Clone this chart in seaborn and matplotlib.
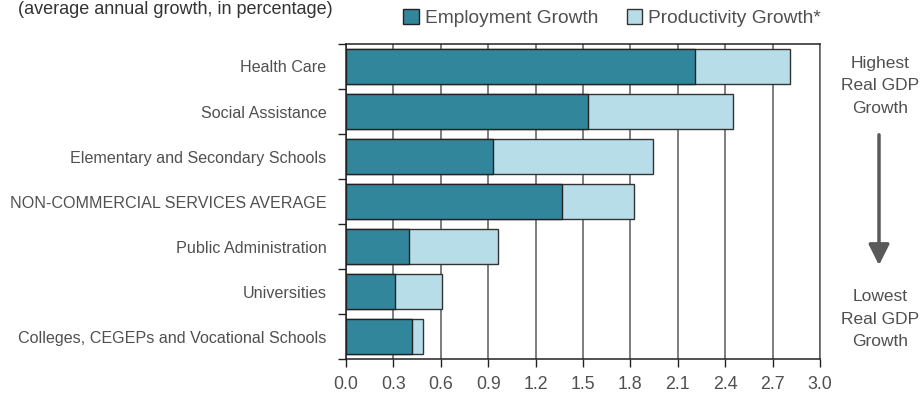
import matplotlib
matplotlib.use("Agg")
import matplotlib.pyplot as plt
import seaborn as sns
import pandas as pd
from matplotlib.patches import Patch

categories = [
    "Health Care",
    "Social Assistance",
    "Elementary and Secondary Schools",
    "NON-COMMERCIAL SERVICES AVERAGE",
    "Public Administration",
    "Universities",
    "Colleges, CEGEPs and Vocational Schools",
]
employment_growth = [2.21, 1.53, 0.93, 1.37, 0.40, 0.31, 0.42]
productivity_growth = [0.60, 0.92, 1.01, 0.45, 0.56, 0.30, 0.07]
x_ticks = [0.0, 0.3, 0.6, 0.9, 1.2, 1.5, 1.8, 2.1, 2.4, 2.7, 3.0]

sns.set_theme(style="white")
plt.rcParams["font.family"] = ["Liberation Sans", "DejaVu Sans"]

df = pd.DataFrame({
    "category": categories,
    "employment": employment_growth,
    "total": [e + p for e, p in zip(employment_growth, productivity_growth)],
})

EMP = "#31869b"
PROD = "#b7dde8"
TXT = "#505050"

fig = plt.figure(figsize=(9.22, 3.98), dpi=100)
ax = fig.add_axes([346 / 922, 1 - 359 / 398, 474 / 922, 315 / 398])

sns.barplot(data=df, y="category", x="total", orient="h", color=PROD,
            saturation=1, width=0.76, edgecolor="#333333", linewidth=1.0,
            ax=ax, zorder=3)
sns.barplot(data=df, y="category", x="employment", orient="h", color=EMP,
            saturation=1, width=0.76, edgecolor="#222222", linewidth=1.0,
            ax=ax, zorder=4)

ax.set_xlim(0, 3.0)
ax.set_ylim(len(categories) - 0.5, -0.5)
ax.set_xticks(x_ticks)
ax.set_xticklabels([f"{t:.1f}" for t in x_ticks])
ax.set_xlabel("")
ax.set_ylabel("")
ax.grid(False)
for t in x_ticks:
    ax.axvline(t, color="#5a5a5a", lw=1.1, zorder=1)

# y ticks at category boundaries, labels at centers
ax.set_yticks([i for i in range(len(categories))])
ax.set_yticklabels(categories)
ax.set_yticks([i - 0.5 for i in range(len(categories) + 1)], minor=True)
ax.tick_params(axis="y", which="major", length=0, pad=14, labelsize=11.6, labelcolor=TXT)
ax.tick_params(axis="y", which="minor", length=6, width=1, color="#222222", direction="out", left=True)
ax.tick_params(axis="x", which="major", length=6, width=1, color="#222222", direction="out",
               bottom=True, labelsize=12.8, labelcolor=TXT, pad=6)

for s in ["left", "bottom", "top", "right"]:
    ax.spines[s].set_visible(True)
    ax.spines[s].set_color("#222222")
    ax.spines[s].set_linewidth(1.1)
ax.spines["right"].set_color("#5a5a5a")

# legend
handles = [Patch(facecolor=EMP, edgecolor="#222222", label="Employment Growth"),
           Patch(facecolor=PROD, edgecolor="#333333", label="Productivity Growth*")]
fig.legend(handles=handles, loc="center", bbox_to_anchor=(612 / 922, 1 - 18 / 398),
           ncol=2, frameon=False, fontsize=13.8, handlelength=0.8, handleheight=0.8,
           handletextpad=0.3, columnspacing=1.5, labelcolor=TXT)

# subtitle
fig.text(18 / 922, 1 - 1 / 398, "(average annual growth, in percentage)", fontsize=13,
         color="#333333", ha="left", va="top")

# right side annotation
cx = 880 / 922
fig.text(cx, 1 - 86 / 398, "Highest\nReal GDP\nGrowth", ha="center", va="center",
         fontsize=12.5, color=TXT, linespacing=1.65)
fig.text(cx, 1 - 319 / 398, "Lowest\nReal GDP\nGrowth", ha="center", va="center",
         fontsize=12.5, color=TXT, linespacing=1.65)
fig.patches.append(matplotlib.patches.FancyArrowPatch(
    (879 / 922, 1 - 132 / 398), (879 / 922, 1 - 268 / 398), transform=fig.transFigure,
    arrowstyle="-|>,head_length=0.9,head_width=0.45", mutation_scale=14,
    color="#5a5a5a", lw=2.5))

fig.savefig("out.png", dpi=100)
